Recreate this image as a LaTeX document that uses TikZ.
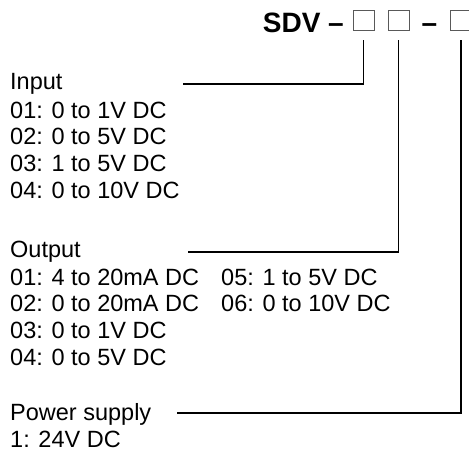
\documentclass[tikz,border=0pt]{standalone}
\usepackage{fontspec}
\setmainfont{Liberation Sans}
\usetikzlibrary{positioning,calc}
\tikzset{
  codebox/.style={draw=gray!70!black, line width=0.7pt, minimum width=21pt, minimum height=20pt, inner sep=0pt},
  leadln/.style={line width=1.3pt, line join=miter},
  lbl/.style={anchor=base west, inner sep=0pt, font=\fontsize{23.5pt}{27.5pt}\selectfont},
  ttl/.style={anchor=base, inner sep=0pt, font=\fontsize{28pt}{32pt}\selectfont\bfseries},
}

\begin{document}
\begin{tikzpicture}[x=1pt,y=1pt]
    \useasboundingbox (0,0) rectangle (469,-453);
    % model code
    \node[ttl, anchor=base east] (sdv) at (344,-32) {SDV –};
    \node[codebox] (b1) at (363.5,-20) {};
    \node[codebox] (b2) at (398.5,-20) {};
    \node[ttl] (dash) at (429.5,-32) {–};
    \node[codebox] (b3) at (461,-20) {};
    % input
    \node[lbl] (inp) at (10,-89) {Input};
    \foreach \t [count=\i] in {01: 0 to 1V DC, 02: 0 to 5V DC, 03: 1 to 5V DC, 04: 0 to 10V DC}
      \node[lbl] (inp\i) at (10,{-91.2-26.8*\i}) {\t};
    % output
    \node[lbl] (out) at (10,-257) {Output};
    \foreach \t [count=\i] in {01: 4 to 20mA DC, 02: 0 to 20mA DC, 03: 0 to 1V DC, 04: 0 to 5V DC}
      \node[lbl] (outa\i) at (10,{-258.2-26.8*\i}) {\t};
    \foreach \t [count=\i] in {05: 1 to 5V DC, 06: 0 to 10V DC}
      \node[lbl] (outb\i) at (221,{-258.2-26.8*\i}) {\t};
    % power supply
    \node[lbl] (pwr) at (10,-420) {Power supply};
    \node[lbl] (pwr1) at (10,-447) {1: 24V DC};
    % leaders
    \coordinate (inl) at (183,-84);
    \coordinate (outl) at (188,-252);
    \coordinate (pwrl) at (177,-413);
    \draw[leadln] (inl) -| ($(b1.south)+(0,-10)$);
    \draw[leadln] (outl) -| ($(b2.south)+(0,-10)$);
    \draw[leadln] (pwrl) -| ($(b3.south)+(0,-10)$);
  \end{tikzpicture}
\end{document}
